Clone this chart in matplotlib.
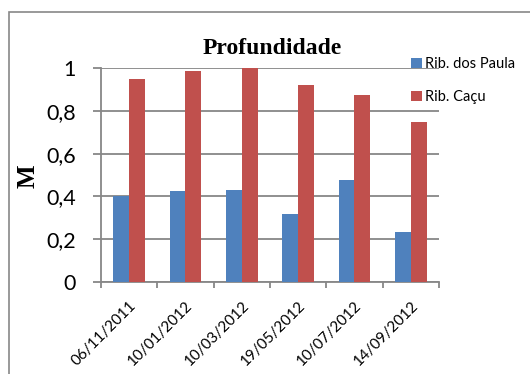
import matplotlib
matplotlib.use("Agg")
import matplotlib.pyplot as plt
from matplotlib.patches import Rectangle
import numpy as np

categories = ["06/11/2011", "10/01/2012", "10/03/2012", "19/05/2012", "10/07/2012", "14/09/2012"]
rib_dos_paula = [0.40, 0.427, 0.43, 0.32, 0.476, 0.234]
rib_cacu = [0.948, 0.987, 1.0, 0.922, 0.872, 0.749]
series_names = ["Rib. dos Paula", "Rib. Caçu"]
yticks = [0, 0.2, 0.4, 0.6, 0.8, 1.0]
ytick_labels = ["0", "0,2", "0,4", "0,6", "0,8", "1"]

BLUE = "#4F81BD"
RED = "#C0504D"
GRID = "#878787"

W, H = 530, 374
fig = plt.figure(figsize=(W / 100, H / 100), dpi=100)
fig.patch.set_facecolor("white")

# outer chart frame
fig.add_artist(Rectangle((9 / W, -0.05), 1.2, (H - 12) / H + 0.05, transform=fig.transFigure,
                         fill=False, edgecolor=GRID, linewidth=1.2))

ax = fig.add_axes([101 / W, (H - 282) / H, (439 - 101) / W, (282 - 68) / H])
x = np.arange(len(categories))
bw = 0.284
b1 = ax.bar(x - bw / 2, rib_dos_paula, bw, color=BLUE, zorder=3, label=series_names[0])
b2 = ax.bar(x + bw / 2, rib_cacu, bw, color=RED, zorder=3, label=series_names[1])

ax.set_xlim(-0.5, len(categories) - 0.5)
ax.set_ylim(0, 1)
ax.set_yticks(yticks)
ax.set_yticklabels(ytick_labels, family="Lato", fontsize=15.5)
ax.yaxis.grid(True, color=GRID, linewidth=1.3, zorder=0)
ax.set_axisbelow(True)

ax.set_xticks(np.arange(-0.5, len(categories), 1.0))
ax.set_xticklabels([])
ax.set_xticks(x, minor=True)
ax.set_xticklabels(categories, minor=True, rotation=45, ha="right", rotation_mode="anchor",
                   family="Lato", fontsize=11)
ax.tick_params(axis="x", which="minor", length=0, pad=12)
ax.tick_params(axis="x", which="major", length=4, width=1.3, color=GRID, direction="out")
ax.tick_params(axis="y", length=6, width=1.3, color=GRID, direction="out", pad=12)

for s in ["top", "right"]:
    ax.spines[s].set_visible(False)
for s in ["left", "bottom"]:
    ax.spines[s].set_color(GRID)
    ax.spines[s].set_linewidth(1.3)

fig.text(272 / W, 1 - 48 / H, "Profundidade", family="Liberation Serif", fontweight="bold",
         fontsize=17, ha="center", va="center")
fig.text(28 / W, 1 - 176 / H, "M", family="Liberation Serif", fontweight="bold",
         fontsize=18, ha="center", va="center", rotation=90)

fig.legend(handles=[b1, b2], labels=series_names, loc="upper left",
           bbox_to_anchor=(404 / W, 1 - 50 / H), frameon=False, borderpad=0,
           handlelength=0.7, handleheight=0.7, handletextpad=0.25, labelspacing=1.3,
           prop={"family": "Lato", "size": 10.5})

fig.savefig("out.png", dpi=100, facecolor="white")
